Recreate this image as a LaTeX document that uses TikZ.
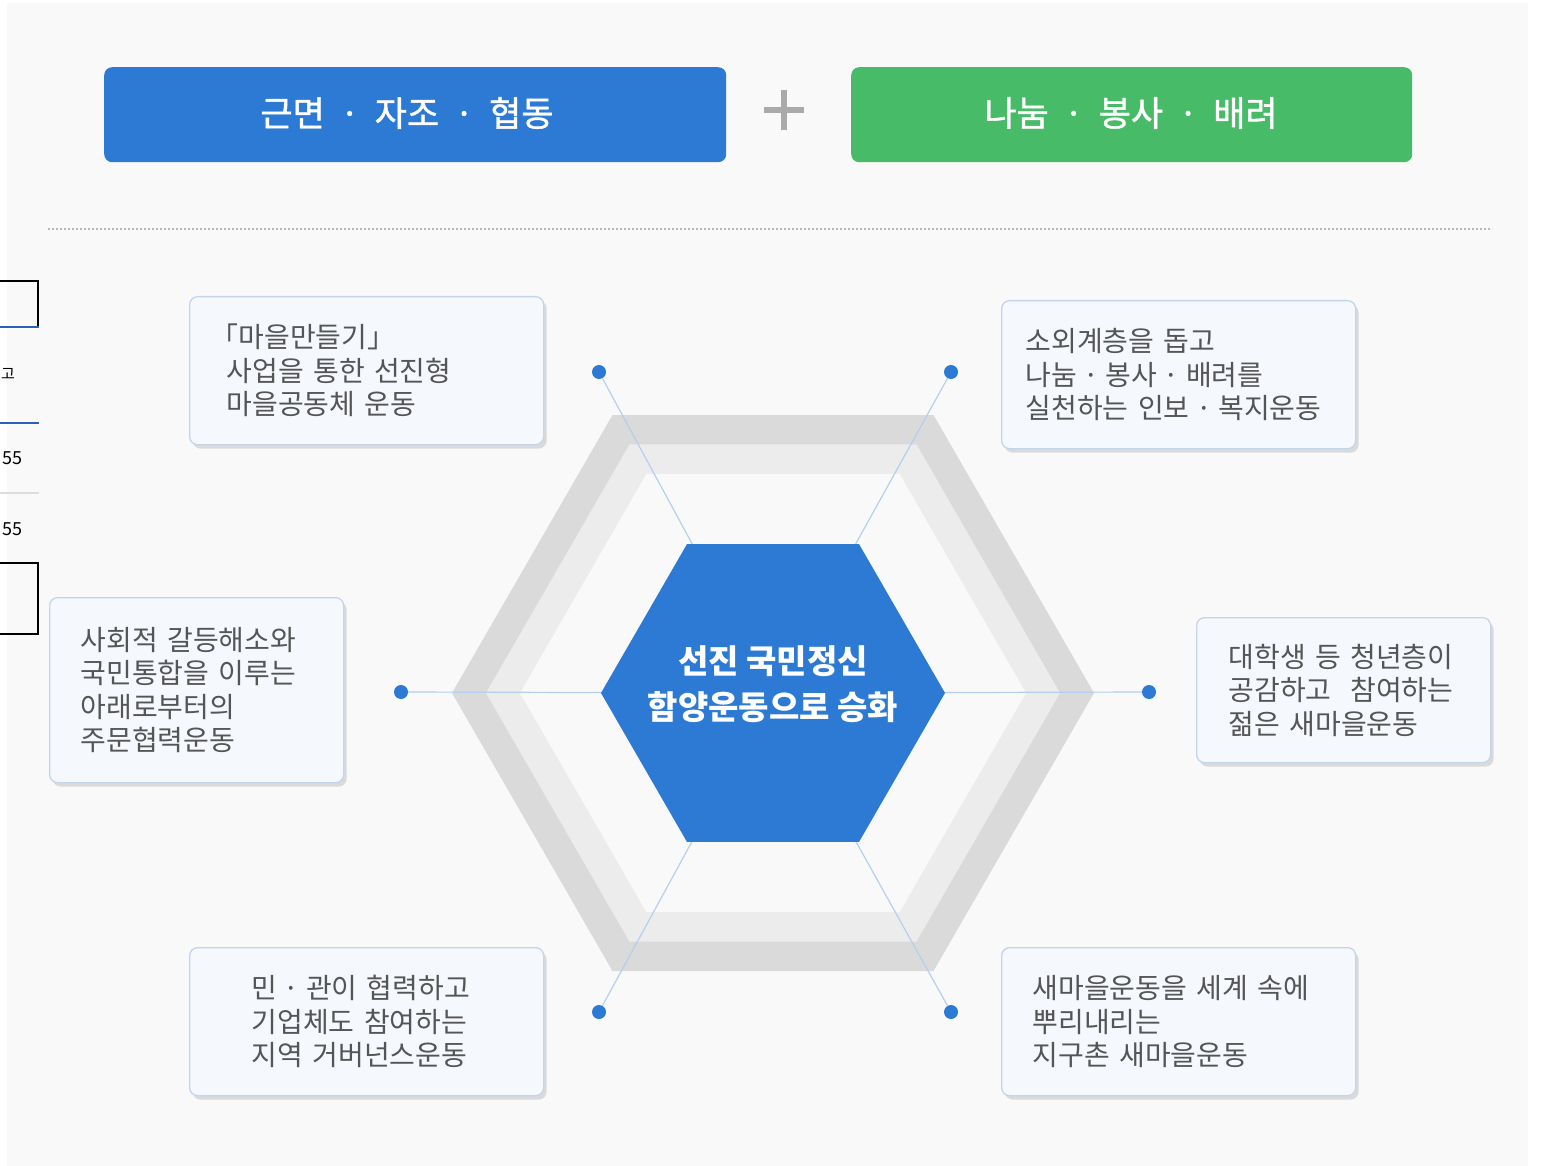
\documentclass[tikz,border=0pt]{standalone}
\usepackage{fontspec}
\setmainfont{Noto Sans CJK KR}
\newfontfamily\hdrfont{Noto Sans CJK KR}[FakeBold=1.2]
\newcommand\mdot{\kern6.5pt·\kern6.5pt}
\usetikzlibrary{shadows}
\definecolor{panel}{HTML}{F9F9F9}
\definecolor{hdrblue}{HTML}{2D7AD5}
\definecolor{hdrgreen}{HTML}{48BB68}
\definecolor{ringdark}{HTML}{DADADA}
\definecolor{ringlight}{HTML}{ECECEC}
\definecolor{boxfill}{HTML}{F5F8FD}
\definecolor{boxline}{HTML}{C3D5ED}
\definecolor{boxtext}{HTML}{555555}
\definecolor{spokecol}{HTML}{B5CFF0}
\definecolor{plusgrey}{HTML}{AAAAAA}
\definecolor{sepgrey}{HTML}{B8B8B8}
\definecolor{artblue}{HTML}{2A62B8}
\definecolor{artgrey}{HTML}{DDDDDD}
\begin{document}
\begin{tikzpicture}[x=1pt,y=-1pt,
  hdrbox/.style={rounded corners=8pt, inner sep=0pt, anchor=north west},
  hdrtext/.style={text=white, inner sep=0pt, font=\hdrfont\fontsize{35}{40}\selectfont},
  plusmark/.style={draw=plusgrey, line width=6pt},
  sepline/.style={draw=sepgrey, line width=1.6pt, dash pattern=on 2pt off 2pt},
  spoke/.style={draw=spokecol, line width=1.2pt},
  bluedot/.style={circle, fill=hdrblue, minimum size=14pt, inner sep=0pt},
  coretext/.style={text=white, align=center, inner sep=0pt, font=\bfseries\fontsize{33}{46}\selectfont},
  infobox/.style={draw=boxline, fill=boxfill, rounded corners=8pt, line width=1.3pt,
    anchor=north west, align=left, text=boxtext, inner ysep=0pt,
    font=\fontsize{28}{33.5}\selectfont,
    drop shadow={shadow xshift=3pt, shadow yshift=-4pt, fill=black, opacity=0.12}},
  artline/.style={draw=black, line width=2pt},
  arttext/.style={inner sep=0pt, text=black, font=\fontsize{18}{20}\selectfont}
]
\useasboundingbox (0,0) rectangle (1542,1166);
\fill[white] (0,0) rectangle (1542,1166);
\fill[panel] (7,3) rectangle (1528,1166);

% cropped page fragments at the left edge
\draw[artline] (0,281) -- (38,281) -- (38,327);
\draw[artblue, line width=1.5pt] (0,327) -- (39,327);
\draw[artblue, line width=1.5pt] (0,423) -- (39,423);
\draw[artgrey, line width=1.2pt] (0,493) -- (39,493);
\draw[artline] (0,563) -- (38,563) -- (38,634) -- (0,634);
\node[arttext, anchor=west, font=\fontsize{15}{17}\selectfont] (artA) at (1,374) {고};
\node[arttext, anchor=west] (artB) at (2,458) {55};
\node[arttext, anchor=west] (artC) at (2,529) {55};

% header
\node[hdrbox, fill=hdrblue, minimum width=622, minimum height=95] (blueBox) at (104,67) {};
\node[hdrtext] (blueText) at (407,113) {근면\makebox[50pt]{·}자조\makebox[50pt]{·}협동};
\draw[plusmark] (764,110) -- (804,110) (784,90) -- (784,130);
\node[hdrbox, fill=hdrgreen, minimum width=561, minimum height=95] (greenBox) at (851,67) {};
\node[hdrtext] (greenText) at (1131,113) {나눔\makebox[50pt]{·}봉사\makebox[50pt]{·}배려};
\draw[sepline] (48,229) -- (1492,229);

% hexagon rings
\coordinate (c) at (773,693);
\begin{scope}[shift={(773,693)}]
  \fill[ringdark] (0:321) \foreach \a in {60,120,...,300}{-- (\a:321)} -- cycle;
  \fill[ringlight] (0:287) \foreach \a in {60,120,...,300}{-- (\a:287)} -- cycle;
  \fill[panel] (0:253) \foreach \a in {60,120,...,300}{-- (\a:253)} -- cycle;
\end{scope}

% dots and spokes
\node[bluedot] (dUL) at (599,372) {};
\node[bluedot] (dUR) at (951,372) {};
\node[bluedot] (dL) at (401,692) {};
\node[bluedot] (dR) at (1149,692) {};
\node[bluedot] (dLL) at (599,1012) {};
\node[bluedot] (dLR) at (951,1012) {};
\foreach \d in {dUL,dUR,dL,dR,dLL,dLR}{\draw[spoke] (\d) -- (c);}

% central hexagon
\begin{scope}[shift={(773,693)}]
  \fill[hdrblue] (0:172) \foreach \a in {60,120,...,300}{-- (\a:172)} -- cycle;
\end{scope}
\node[coretext] (core) at (773,684) {선진 국민정신\\함양운동으로 승화};

% information boxes
\node[infobox, minimum width=354, minimum height=148, text width=280, inner xsep=37] (bTL) at (189,296)
  {\makebox[12pt][r]{「}마을만들기」\\사업을~통한~선진형\\마을공동체~운동};
\node[infobox, minimum width=354, minimum height=148, text width=306, inner xsep=24] (bTR) at (1001,300)
  {소외계층을~돕고\\나눔\mdot 봉사\mdot 배려를\\실천하는~인보\mdot 복지운동};
\node[infobox, minimum width=294, minimum height=185, text width=232, inner xsep=31] (bL) at (49,597)
  {사회적~갈등해소와\\국민통합을~이루는\\아래로부터의\\주문협력운동};
\node[infobox, minimum width=294, minimum height=145, text width=230, inner xsep=32] (bR) at (1196,617)
  {대학생~등~청년층이\\공감하고~~참여하는\\젊은~새마을운동};
\node[infobox, minimum width=354, minimum height=148, text width=230, inner xsep=62] (bBL) at (189,947)
  {민\mdot 관이~협력하고\\기업체도~참여하는\\지역~거버넌스운동};
\node[infobox, minimum width=354, minimum height=148, text width=292, inner xsep=31] (bBR) at (1001,947)
  {새마을운동을~세계~속에\\뿌리내리는\\지구촌~새마을운동};
\end{tikzpicture}
\end{document}
